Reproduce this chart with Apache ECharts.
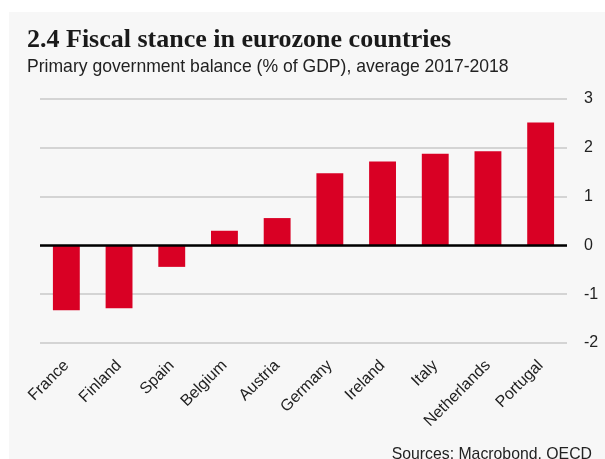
<!DOCTYPE html>
<html><head><meta charset="utf-8">
<script src="https://cdn.jsdelivr.net/npm/echarts@6/dist/echarts.min.js"></script>
<style>html,body{margin:0;padding:0;background:#fff}#c{width:605px;height:459px}</style>
</head><body><div id="c"></div>
<script>
const categories = ['France','Finland','Spain','Belgium','Austria','Germany','Ireland','Italy','Netherlands','Portugal'];
const balance = [-1.33, -1.29, -0.44, 0.30, 0.56, 1.48, 1.72, 1.88, 1.93, 2.52];
const yTicks = { min: -2, max: 3, interval: 1 };
const titleText = '2.4 Fiscal stance in eurozone countries';
const subtitleText = 'Primary government balance (% of GDP), average 2017-2018';
const sourceText = 'Sources: Macrobond, OECD';

const chart = echarts.init(document.getElementById('c'), null, {renderer:'canvas'});
chart.setOption({
  animation: false,
  backgroundColor: '#ffffff',
  graphic: [
    {type:'rect', z:-10, shape:{x:9,y:12,width:596,height:447}, style:{fill:'#f7f7f7'}},
    {type:'text', x:27, y:27, style:{text:titleText, font:'bold 26px "Liberation Serif"', fill:'#1a1a1a'}},
    {type:'text', x:27, y:57, scaleX:0.95, style:{text:subtitleText, font:'18.5px "Liberation Sans"', fill:'#222'}},
    {type:'text', x:592, y:446, scaleX:0.93, style:{text:sourceText, font:'17px "Liberation Sans"', fill:'#222', align:'right'}}
  ],
  grid: {left:40, right:38, top:99, bottom:116, containLabel:false},
  xAxis: {
    type:'category', data: categories,
    axisLine:{show:false}, axisTick:{show:false},
    axisLabel:{rotate:45, margin:20, fontFamily:'Liberation Sans', fontSize:16, color:'#222', interval:0}
  },
  yAxis: {
    type:'value', position:'right', min:yTicks.min, max:yTicks.max, interval:yTicks.interval,
    axisLine:{show:false}, axisTick:{show:false},
    axisLabel:{margin:17, fontFamily:'Liberation Sans', fontSize:16, color:'#222'},
    splitLine:{lineStyle:{color:'#c8c8c8', width:1.5}}
  },
  series: [{
    type:'bar', data: balance, barWidth:'51%',
    itemStyle:{color:'#d90024'},
    markLine:{silent:true, symbol:'none', label:{show:false}, lineStyle:{color:'#000', width:2.5, type:'solid'}, data:[{yAxis:0}]}
  }]
});
</script></body></html>
